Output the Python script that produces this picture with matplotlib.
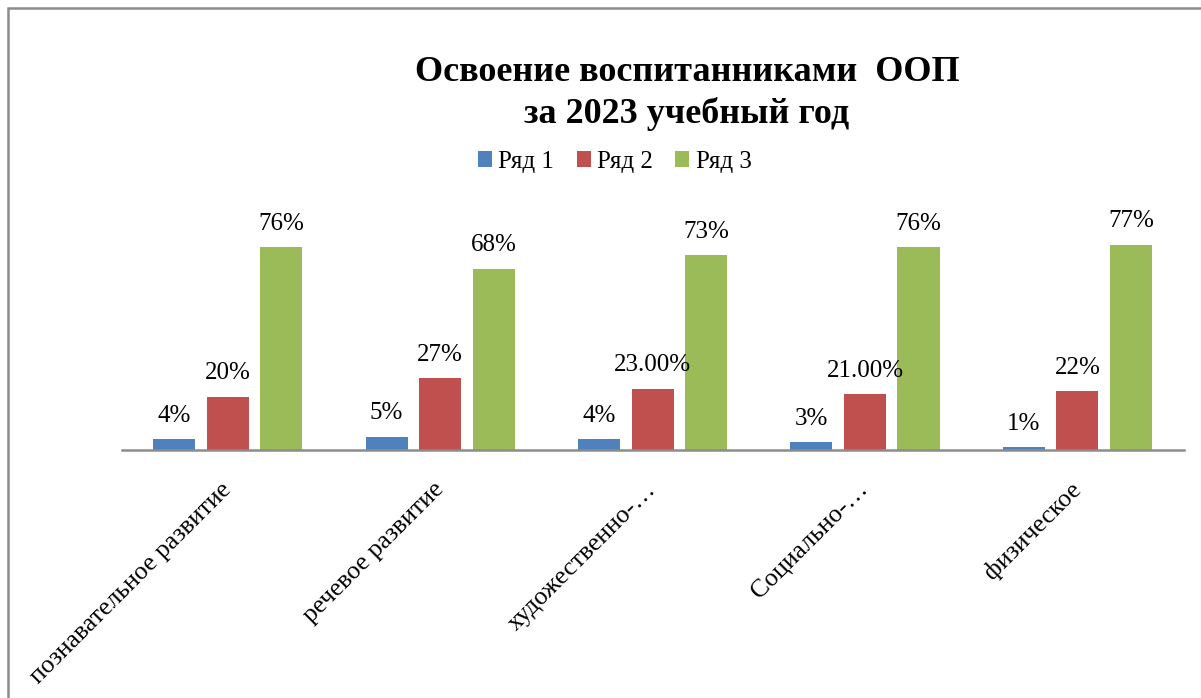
import matplotlib
matplotlib.use('Agg')
import matplotlib.pyplot as plt
import numpy as np
from matplotlib.patches import Rectangle

plt.rcParams['font.family'] = ['Liberation Serif', 'DejaVu Serif']

# data
categories = ['познавательное развитие', 'речевое развитие', 'художественно-…',
              'Социально-…', 'физическое']
series_names = ['Ряд 1', 'Ряд 2', 'Ряд 3']
row1 = [0.04, 0.05, 0.04, 0.03, 0.01]
row2 = [0.20, 0.27, 0.23, 0.21, 0.22]
row3 = [0.76, 0.68, 0.73, 0.76, 0.77]
labels1 = ['4%', '5%', '4%', '3%', '1%']
labels2 = ['20%', '27%', '23.00%', '21.00%', '22%']
labels3 = ['76%', '68%', '73%', '76%', '77%']
colors = ['#4F81BD', '#C0504D', '#9BBB59']

fig = plt.figure(figsize=(12.01, 6.98), dpi=100)
ax = fig.add_axes([0.1012, 0.3553, 0.8843, 0.344])

x = np.arange(len(categories))
offsets = [-0.252, 0.0, 0.252]
for vals, labs, off, col, name in zip([row1, row2, row3], [labels1, labels2, labels3],
                                      offsets, colors, series_names):
    bars = ax.bar(x + off, vals, width=0.198, color=col, label=name)
    for b, lab in zip(bars, labs):
        ax.annotate(lab, (b.get_x() + b.get_width() / 2, b.get_height()),
                    xytext=(0, 12.5), textcoords='offset points',
                    ha='center', va='baseline', fontsize=18)

ax.set_xlim(-0.5, len(categories) - 0.5)
ax.set_ylim(0, 0.9)
ax.set_yticks([])
for s in ['top', 'right', 'left']:
    ax.spines[s].set_visible(False)
ax.spines['bottom'].set_color('#8c8c8c')
ax.spines['bottom'].set_linewidth(1.8)
ax.set_xticks(x)
ax.set_xticklabels(categories, rotation=45, ha='right', va='center',
                   rotation_mode='anchor', fontsize=18.5)
ax.tick_params(axis='x', length=0, pad=26)

fig.text(0.572, 0.866, 'Освоение воспитанниками  ООП\nза 2023 учебный год',
         ha='center', va='center', fontsize=26, fontweight='bold', linespacing=1.28)

fig.legend(loc='center', bbox_to_anchor=(0.512, 0.768), ncol=3, frameon=False,
           fontsize=18, handlelength=0.56, handleheight=0.56, handletextpad=0.25,
           columnspacing=0.9)

fig.patches.append(Rectangle((8 / 1201, -0.1), 1.2, 1 - 8 / 698 + 0.1,
                             transform=fig.transFigure, fill=False,
                             edgecolor='#8c8c8c', linewidth=1.8))

fig.savefig('out.png', dpi=100)
